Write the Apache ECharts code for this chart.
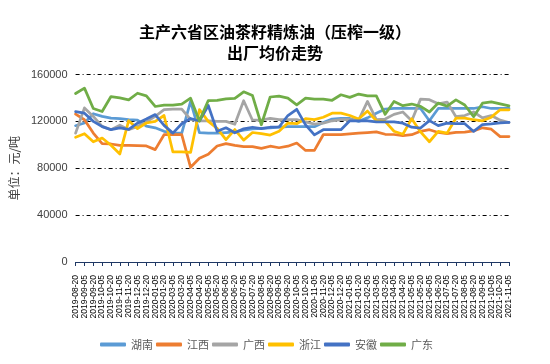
<!DOCTYPE html>
<html>
<head>
<meta charset="utf-8">
<script src="https://cdn.jsdelivr.net/npm/echarts@6/dist/echarts.min.js"></script>
<style>
html,body{margin:0;padding:0;background:#fff;}
#chart{width:550px;height:364px;}
</style>
</head>
<body>
<div id="chart"></div>
<script>
var categories = ['2019-08-20','2019-09-05','2019-09-20','2019-10-05','2019-10-20','2019-11-05','2019-11-20','2019-12-05','2019-12-20','2020-01-05','2020-01-20','2020-03-05','2020-03-20','2020-04-05','2020-04-20','2020-05-05','2020-05-20','2020-06-05','2020-06-20','2020-07-05','2020-07-20','2020-08-05','2020-08-20','2020-09-05','2020-09-20','2020-10-05','2020-10-20','2020-11-05','2020-11-20','2020-12-05','2020-12-20','2021-01-05','2021-01-20','2021-02-05','2021-03-05','2021-03-20','2021-04-05','2021-04-20','2021-05-05','2021-05-20','2021-06-05','2021-06-20','2021-07-05','2021-07-20','2021-08-05','2021-08-20','2021-09-05','2021-10-05','2021-10-20','2021-11-05'];

var hunan = [116300,118600,126500,124300,122800,122300,121400,121000,116000,114500,111500,110000,110000,137000,110500,110000,110000,110500,111000,112500,113500,114000,114500,115000,115500,115500,115500,115500,119000,122000,122500,122500,120000,123000,127000,130500,131000,131000,131000,131000,120500,131000,131000,131000,131000,131000,132500,131000,131000,131000];
var jiangxi = [126200,121400,110000,101000,100700,99600,99600,99400,99000,95900,108600,108600,108600,80800,88500,92000,99000,101000,99500,98500,98500,97000,98800,97500,98800,101500,95200,95200,108600,108600,108600,109300,110000,110500,111000,109000,108800,107800,108600,111500,112900,110500,109500,110600,110900,111800,114500,113300,107000,107000];
var guangxi = [110000,131500,124200,115700,112900,116800,112900,115700,119500,124300,130000,130500,130500,121600,120500,120500,120000,120000,117500,137600,121000,121000,122500,121500,121500,121500,119500,117700,118500,120500,121500,121500,121000,137000,121500,122000,126000,128000,120500,139000,138500,135000,136500,124000,125000,128000,123000,125000,121000,119000];
var zhejiang = [106400,109500,102600,105800,99600,92200,120600,113800,118600,120000,125000,93900,93900,93500,130000,120000,114000,104400,113000,104000,110500,109500,108300,111600,118600,118000,122300,121500,123500,127000,127000,125000,122000,128800,120500,120000,111600,109000,122300,111000,102600,111400,110000,122700,122700,121400,120500,123600,129900,129900];
var anhui = [128300,127000,120000,115500,113000,114500,113200,118500,122000,125800,116600,110000,118000,122500,120300,133500,111500,114500,110300,113600,115000,113800,115000,115200,125000,130300,117000,108500,112900,112900,112900,120500,120500,120500,119600,119500,119500,118500,115000,114300,120600,116400,118500,118000,118000,111400,117300,117800,118800,119200];
var guangdong = [143800,148400,131000,128400,141200,140000,138400,144000,141800,132700,133800,133800,134800,139800,120400,137800,138000,139200,139600,145200,142000,117100,140800,141600,139800,134100,139800,139000,139000,138000,142700,140500,143300,141800,141800,126000,137000,133400,134800,132800,128000,135600,133000,138300,134000,124000,135500,136700,135000,133300];

var seriesNames = ['湖南','江西','广西','浙江','安徽','广东'];
var seriesData = [hunan, jiangxi, guangxi, zhejiang, anhui, guangdong];
var colors = ['#5B9BD5','#ED7D31','#A5A5A5','#FFC000','#4472C4','#70AD47'];

var chart = echarts.init(document.getElementById('chart'), null, {renderer:'canvas'});
var font = 'Noto Sans CJK SC, Liberation Sans, sans-serif';
chart.setOption({
  animation: false,
  backgroundColor: '#ffffff',
  color: colors,
  title: {
    text: '主产六省区油茶籽精炼油（压榨一级）\n出厂均价走势',
    left: 'center',
    top: 21,
    padding: 0,
    textStyle: {fontFamily: font, fontSize: 16, fontWeight: 'bold', color: '#000', lineHeight: 21}
  },
  legend: {
    data: seriesNames,
    left: 95,
    top: 334,
    icon: 'roundRect',
    itemWidth: 26,
    itemHeight: 4,
    itemGap: 3,
    textStyle: {fontFamily: font, fontSize: 11, color: '#595959'}
  },
  grid: {left: 60, right: 41, top: 74.5, bottom: 102, containLabel: false},
  xAxis: {
    type: 'category',
    data: categories,
    boundaryGap: false,
    axisLine: {lineStyle: {color: '#1F3864', width: 1}},
    axisTick: {show: true, length: 4, interval: 0, lineStyle: {color: '#1F3864'}},
    axisLabel: {interval: 0, rotate: 90, fontSize: 8.5, margin: 13, color: '#000', fontFamily: 'Liberation Sans, sans-serif'}
  },
  yAxis: {
    type: 'value',
    min: 0, max: 160000, interval: 40000,
    name: '单位：元/吨',
    nameLocation: 'middle',
    nameRotate: 90,
    nameGap: 55,
    nameTextStyle: {fontFamily: font, fontSize: 12, color: '#404040'},
    axisLine: {show: false},
    axisTick: {show: false},
    axisLabel: {fontSize: 11, color: '#404040', margin: 8, fontFamily: 'Liberation Sans, sans-serif', formatter: function(v){ return String(v); }},
    splitLine: {show: true, lineStyle: {color: '#000', width: 1, type: [4,3,1,3]}}
  },
  series: seriesNames.map(function(n, i){
    return {
      name: n, type: 'line', data: seriesData[i],
      symbol: 'none', smooth: false,
      lineStyle: {width: 2.75, color: colors[i], cap: 'round', join: 'round'},
      itemStyle: {color: colors[i]}
    };
  })
});
</script>
</body>
</html>
